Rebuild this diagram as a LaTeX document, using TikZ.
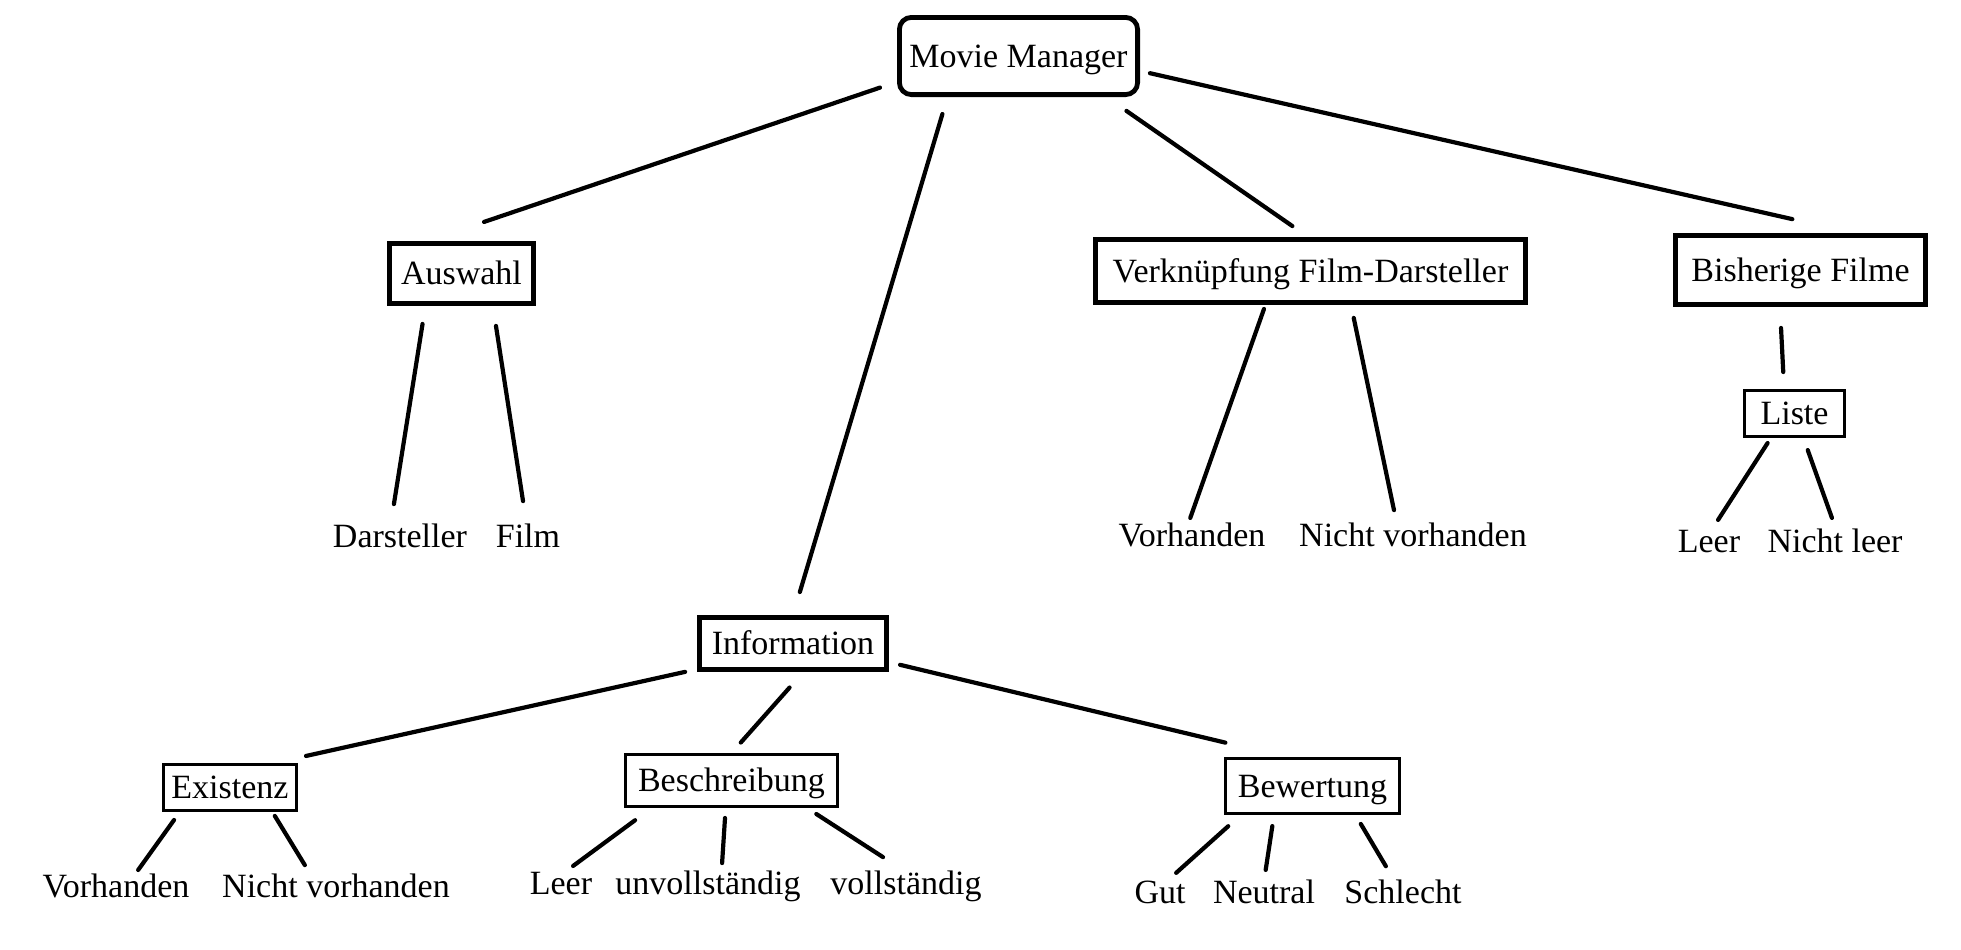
\documentclass[tikz,border=0pt]{standalone}
\usepackage{fontspec}
\setmainfont{Liberation Serif}
\usepackage{tikz}
\usetikzlibrary{positioning}

\begin{document}
\begin{tikzpicture}[x=0.5pt, y=-0.5pt,
    font=\fontsize{17}{20}\selectfont,
    mainbox/.style={draw, line width=2.5pt, inner sep=0pt, text height=11pt, text depth=0pt},
    subbox/.style={draw, line width=1.6pt, inner sep=0pt, text height=11pt, text depth=0pt},
    leaf/.style={inner sep=0pt, outer sep=0pt, text height=11pt, text depth=3.5pt, anchor=base},
    link/.style={line width=2.1pt, line cap=round}]
    \useasboundingbox (0,0) rectangle (1961,949);

    \node[mainbox, line width=2.4pt, rounded corners=6pt, minimum width=119.1pt, minimum height=38.6pt] at (1018.5,56) (mm) {Movie Manager};

    \node[mainbox, minimum width=72pt, minimum height=30pt] at (461.5,273.5) (auswahl) {Auswahl};
    \node[mainbox, minimum width=215pt, minimum height=31.5pt] at (1310.5,271) (verkn) {Verknüpfung Film-Darsteller};
    \node[mainbox, minimum width=125pt, minimum height=34.5pt] at (1800.5,270) (bisher) {Bisherige Filme};
    \node[mainbox, minimum width=93.5pt, minimum height=26pt] at (793,643.5) (info) {Information};

    \node[subbox, minimum width=49.9pt, minimum height=22.9pt] at (1794.5,413.5) (liste) {Liste};
    \node[subbox, minimum width=66.4pt, minimum height=22.9pt] at (230,787.5) (existenz) {Existenz};
    \node[subbox, minimum width=105.9pt, minimum height=25.9pt] at (731.5,780.5) (beschr) {Beschreibung};
    \node[subbox, minimum width=86.9pt, minimum height=27.4pt] at (1312.5,786) (bewert) {Bewertung};

    % leaves
    \node[leaf] at (400,547) (darst) {Darsteller};
    \node[leaf] at (528,547) (film) {Film};
    \node[leaf] at (1192,546) (vorh) {Vorhanden};
    \node[leaf] at (1413,546) (nvorh) {Nicht vorhanden};
    \node[leaf] at (1709,552) (leerL) {Leer};
    \node[leaf] at (1835,552) (nleer) {Nicht leer};
    \node[leaf] at (116,897) (exvorh) {Vorhanden};
    \node[leaf] at (336,897) (exnvorh) {Nicht vorhanden};
    \node[leaf] at (561,894) (leerB) {Leer};
    \node[leaf] at (708,894) (unvoll) {unvollständig};
    \node[leaf] at (906,894) (voll) {vollständig};
    \node[leaf] at (1160,903) (gut) {Gut};
    \node[leaf] at (1264,903) (neutral) {Neutral};
    \node[leaf] at (1403,903) (schlecht) {Schlecht};

    % top level
    \draw[link, shorten <=9pt, shorten >=29.7pt] (mm.192) -- (auswahl.136);
    \draw[link, shorten <=8.9pt, shorten >=12pt] (mm.210) -- (info.90);
    \draw[link, shorten <=12.2pt, shorten >=9.6pt] (mm.335.4) -- (verkn.94.7);
    \draw[link, shorten <=5.1pt, shorten >=31.3pt] (mm.353.6) -- (bisher.35.1);

    \draw[link, shorten <=9.1pt, shorten >=10.6pt] (auswahl.222.4) -- (darst.123);
    \draw[link, shorten <=10.1pt, shorten >=12.1pt] (auswahl.314) -- (film.95.1);

    \draw[link, shorten <=2.1pt, shorten >=3.2pt] (verkn.217) -- (vorh.105.8);
    \draw[link, shorten <=6.6pt, shorten >=7.1pt] (verkn.320.2) -- (nvorh.138);

    \draw[link, shorten <=10.5pt, shorten >=8.5pt] (bisher.241) -- (liste.113.6);
    \draw[link, shorten <=3pt, shorten >=6pt] (liste.226.4) -- (leerL.80.2);
    \draw[link, shorten <=6.4pt, shorten >=6.4pt] (liste.290.8) -- (nleer.85.3);

    % information
    \draw[link, shorten <=6.1pt, shorten >=16.3pt] (info.195.4) -- (existenz.29.6);
    \draw[link, shorten <=10.4pt, shorten >=7pt] (info.290.8) -- (beschr.90);
    \draw[link, shorten <=5.7pt, shorten >=30.9pt] (info.349.5) -- (bewert.133.5);

    \draw[link, shorten <=4.9pt, shorten >=3.1pt] (existenz.206) -- (exvorh.38.2);
    \draw[link, shorten <=2.3pt, shorten >=5.8pt] (existenz.330.1) -- (exnvorh.150.9);

    \draw[link, shorten <=10.3pt, shorten >=5.1pt] (beschr.199.5) -- (leerB.75.7);
    \draw[link, shorten <=5pt, shorten >=4.5pt] (beschr.258.1) -- (unvoll.47.3);
    \draw[link, shorten <=5.5pt, shorten >=13.7pt] (beschr.340.2) -- (voll.90);

    \draw[link, shorten <=8.4pt, shorten >=6.1pt] (bewert.202.5) -- (gut.64.9);
    \draw[link, shorten <=5.6pt, shorten >=5.6pt] (bewert.217.5) -- (neutral.90);
    \draw[link, shorten <=5.2pt, shorten >=8.6pt] (bewert.326.9) -- (schlecht.120.1);
\end{tikzpicture}
\end{document}
